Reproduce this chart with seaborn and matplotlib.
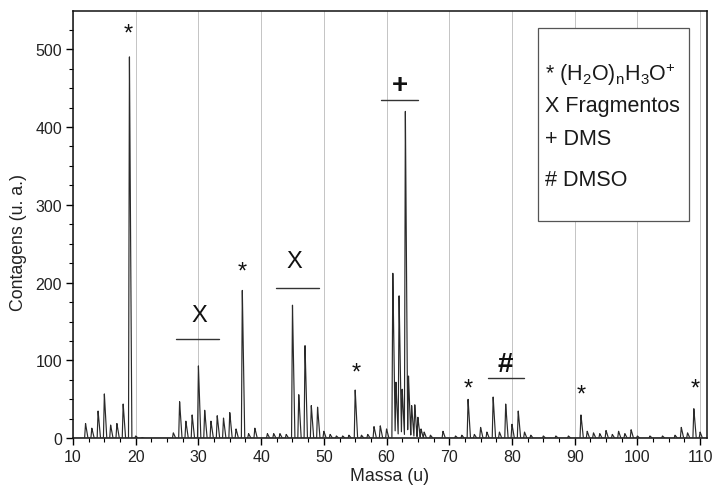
import numpy as np
import pandas as pd
import matplotlib
matplotlib.use("Agg")
import matplotlib.pyplot as plt
from matplotlib.patches import Rectangle
from matplotlib.ticker import MultipleLocator
import seaborn as sns

# Peak list of the mass spectrum: mass (u) and counts (u. a.)
peak_mass = [12, 13, 14, 15, 16, 17, 18, 19, 20, 21,
             26, 27, 28, 29, 30, 31, 32, 33, 34, 35, 36, 37, 38, 39,
             41, 42, 43, 44, 45, 46, 47, 48, 49, 50, 51, 52, 53, 54, 55, 56, 57, 58, 59, 60,
             61, 61.5, 62, 62.5, 63, 63.5, 64, 64.5, 65, 65.5, 66, 67, 69,
             71, 72, 73, 74, 75, 76, 77, 78, 79, 80, 81, 82, 83, 85, 87, 89,
             91, 92, 93, 94, 95, 96, 97, 98, 99, 100, 102, 104, 106, 107, 108, 109, 110]
peak_counts = [19, 13, 35, 57, 17, 19, 44, 490, 3, 1,
               7, 47, 22, 30, 93, 36, 22, 29, 26, 33, 12, 190, 6, 13,
               6, 6, 6, 5, 171, 56, 119, 42, 40, 9, 5, 3, 3, 4, 62, 4, 5, 15, 16, 12,
               212, 72, 183, 63, 420, 80, 42, 43, 27, 12, 8, 4, 9,
               3, 4, 50, 5, 14, 8, 53, 8, 44, 18, 35, 8, 4, 3, 3, 3,
               30, 9, 7, 6, 10, 5, 9, 6, 11, 3, 3, 3, 4, 14, 7, 38, 8]

# Peak annotations: symbol, position and bracket lines
star_mass = [18.8, 36.95, 55.1, 73.05, 91.1, 109.3]
star_y = [520, 214, 84, 64, 56, 64]
group_labels = ["X", "X", "+", "#"]
group_label_x = [30.15, 45.3, 62.15, 78.9]
group_label_y = [159, 228, 454, 95]
group_line_x0 = [26.4, 42.3, 59.1, 76.1]
group_line_x1 = [33.3, 49.2, 65.0, 81.9]
group_line_y = [127, 193, 435, 77]

legend_lines = ["* (H$_\\mathregular{2}$O)$_\\mathregular{n}$H$_\\mathregular{3}$O$^\\mathregular{+}$",
                "X Fragmentos", "+ DMS", "# DMSO"]

sns.set_theme(style="white")
plt.rcParams["font.family"] = ["Liberation Sans", "DejaVu Sans"]
plt.rcParams["mathtext.fontset"] = "custom"
plt.rcParams["mathtext.rm"] = "Liberation Sans"

# Spectrum trace: narrow, slightly tailing triangular profile for each peak
grid = np.arange(10.0, 111.1, 0.01)
trace = np.zeros_like(grid)
for m, h in zip(peak_mass, peak_counts):
    left = np.clip(1 - (m - grid) / 0.15, 0, 1)
    right = np.clip(1 - (grid - m) / 0.38, 0, 1)
    shape = np.where(grid <= m, left, right)
    trace = np.maximum(trace, h * shape)
spectrum = pd.DataFrame({"Massa": grid, "Contagens": trace})

fig = plt.figure(figsize=(7.14, 4.89), dpi=100)
ax = fig.add_axes([73 / 714, 1 - 439.3 / 489, 634 / 714, 427.3 / 489])

sns.lineplot(data=spectrum, x="Massa", y="Contagens", ax=ax, color="#2a2a2a",
             linewidth=0.85, estimator=None, sort=False, zorder=3)

ax.set_xlim(10, 111.1)
ax.set_ylim(0, 549)
ax.xaxis.set_major_locator(MultipleLocator(10))
ax.xaxis.set_minor_locator(MultipleLocator(2.5))
ax.yaxis.set_major_locator(MultipleLocator(100))
ax.yaxis.set_minor_locator(MultipleLocator(25))
ax.tick_params(axis="both", which="major", direction="out", length=5, width=1,
               labelsize=11.5, color="black", labelcolor="#222222", pad=3,
               bottom=True, left=True, top=False, right=False)
ax.tick_params(axis="both", which="minor", direction="out", length=3, width=0.8,
               color="black", bottom=True, left=True, top=False, right=False)
ax.grid(axis="x", which="major", color="#c4c4c4", linewidth=0.7, zorder=0)
ax.set_axisbelow(True)
for sp in ax.spines.values():
    sp.set_color("#111111")
    sp.set_linewidth(1.1)

ax.set_xlabel("Massa (u)", fontsize=12.8, color="#222222", labelpad=2)
ax.set_ylabel("Contagens (u. a.)", fontsize=12.8, color="#222222")
ax.yaxis.set_label_coords(-0.072, 0.461)

# Peak markers
for x, y in zip(star_mass, star_y):
    ax.text(x, y, "*", ha="center", va="center", fontsize=17, color="#111111", zorder=4)
for lab, x, y in zip(group_labels, group_label_x, group_label_y):
    if lab == "X":
        size, weight = 17, "normal"
    else:
        size, weight = 20, "bold"
    ax.text(x, y, lab, ha="center", va="center", fontsize=size, fontweight=weight,
            color="#111111", zorder=4)
for x0, x1, y in zip(group_line_x0, group_line_x1, group_line_y):
    ax.plot([x0, x1], [y, y], color="#333333", linewidth=1.0, zorder=4)

# Key box
ax.add_patch(Rectangle((0.733, 0.508), 0.239, 0.452, transform=ax.transAxes,
                       facecolor="white", edgecolor="#555555", linewidth=0.9, zorder=5))
legend_y = [0.852, 0.779, 0.702, 0.606]
for txt, y in zip(legend_lines, legend_y):
    ax.text(0.745, y, txt, transform=ax.transAxes, ha="left", va="center",
            fontsize=15.5, color="#1a1a1a", zorder=6)

fig.savefig("out.png", dpi=100)
